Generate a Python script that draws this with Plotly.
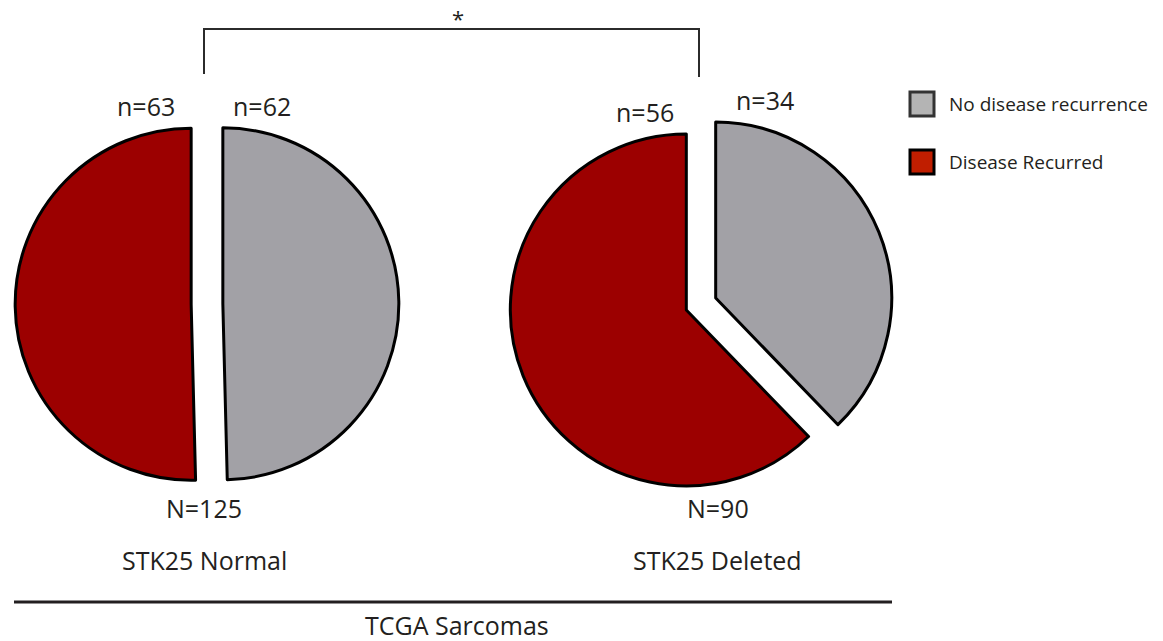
import plotly.graph_objects as go

# Recurrence counts per STK25 status (TCGA sarcomas)
groups = ["STK25 Normal", "STK25 Deleted"]
outcomes = ["No disease recurrence", "Disease Recurred"]
no_recurrence = [62, 34]
recurred = [63, 56]

W, H = 1163, 641
FONT = "Open Sans"
TXT = "#231f20"

pie_colors = ["#a2a1a6", "#9c0000"]
legend_colors = ["#b4b4b4", "#c01e00"]
legend_borders = ["#333333", "#000000"]


def px(x):
    return x / W


def py(y):
    return 1 - y / H


fig = go.Figure()

# pie geometry (pixel centres, radius, pull fraction)
centres = [(207, 304), (701, 304)]
radius = 176
pull = 0.09

for i, g in enumerate(groups):
    cx, cy = centres[i]
    half = radius * (1 + pull)
    fig.add_trace(go.Pie(
        labels=outcomes,
        values=[no_recurrence[i], recurred[i]],
        sort=False,
        direction="clockwise",
        rotation=0,
        pull=[pull, pull],
        marker=dict(colors=pie_colors, line=dict(color="#000000", width=3)),
        textinfo="none",
        hoverinfo="label+value",
        showlegend=False,
        domain=dict(x=[px(cx - half), px(cx + half)],
                    y=[py(cy + half), py(cy - half)]),
    ))

ann = []


def label(x, y, text, size=25, anchor="center"):
    ann.append(dict(x=px(x), y=py(y), xref="paper", yref="paper", text=text,
                    showarrow=False, xanchor=anchor, yanchor="middle",
                    font=dict(family=FONT, size=size, color=TXT)))


# slice counts
label(146, 106, f"n={recurred[0]}")
label(262, 106, f"n={no_recurrence[0]}")
label(645, 112, f"n={recurred[1]}")
label(765, 100, f"n={no_recurrence[1]}")

# totals and group names
label(204, 508, f"N={no_recurrence[0] + recurred[0]}")
label(718, 508, f"N={no_recurrence[1] + recurred[1]}")
label(204, 560, groups[0])
label(717, 560, groups[1])
label(457, 625, "TCGA Sarcomas")
label(458, 18, "*", size=22)

shapes = []
# significance bracket
shapes.append(dict(type="path", xref="paper", yref="paper",
                   path=f"M {px(204)},{py(74)} L {px(204)},{py(29)} L {px(699)},{py(29)} L {px(699)},{py(77)}",
                   line=dict(color="#2b2b2b", width=2)))
# cohort underline
shapes.append(dict(type="line", xref="paper", yref="paper",
                   x0=px(14), x1=px(892), y0=py(602), y1=py(602),
                   line=dict(color="#231f20", width=3)))

# legend swatches
for k, (name, col, bcol) in enumerate(zip(outcomes, legend_colors, legend_borders)):
    yc = 104 + k * 58
    shapes.append(dict(type="rect", xref="paper", yref="paper",
                       x0=px(910), x1=px(934), y0=py(yc - 12), y1=py(yc + 12),
                       fillcolor=col, line=dict(color=bcol, width=3)))
    label(947, yc, name, size=19, anchor="left")

fig.update_layout(
    width=W, height=H,
    margin=dict(l=0, r=0, t=0, b=0),
    paper_bgcolor="white", plot_bgcolor="white",
    annotations=ann, shapes=shapes,
    showlegend=False,
)

fig.write_html("out.html")
